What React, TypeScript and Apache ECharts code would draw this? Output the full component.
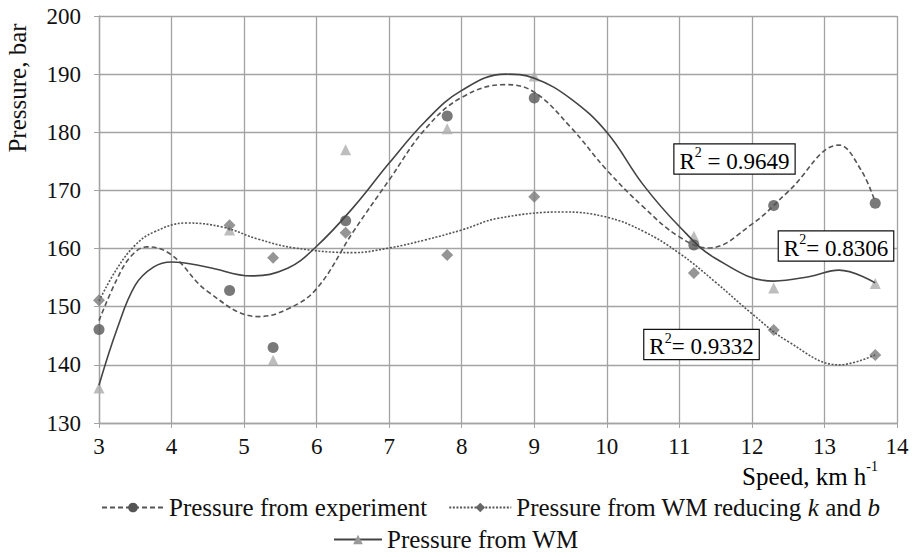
import React, { useEffect, useRef } from "react";
import * as echarts from "echarts";

// Measured points
const speedX = [3, 4.8, 5.4, 6.4, 7.8, 9, 11.2, 12.3, 13.7];
const expY = [146.1, 152.8, 143, 164.8, 182.8, 185.9, 160.6, 167.4, 167.8];
const kbY = [151.1, 164, 158.4, 162.7, 158.9, 168.9, 155.8, 146, 141.7];
const wmY = [136, 163.2, 140.8, 177, 180.6, 189.7, 162.1, 153.2, 154];

// Trend lines
const expTrendX = [3, 3.25, 3.45, 3.66, 4, 4.5, 5.2, 5.6, 6, 6.5, 7, 7.5, 8, 8.6, 9, 9.5, 10, 10.5, 11, 11.4, 12, 12.5, 13.2, 13.5, 13.7];
const expTrendY = [147.6, 154.8, 158.8, 160.3, 158.9, 152.6, 148.3, 149.6, 153.1, 162.8, 171.8, 180.6, 186, 188.2, 186.9, 180.9, 173.5, 167.2, 162, 160.1, 164.2, 169.8, 177.8, 173.6, 168];
const kbTrendX = [3, 3.25, 3.5, 3.75, 4.2, 4.7, 5.2, 5.7, 6.5, 7, 7.5, 8, 8.5, 9.4, 10, 10.5, 11, 11.5, 12, 12.5, 13.2, 13.7];
const kbTrendY = [151, 156.6, 160.6, 162.8, 164.4, 163.7, 161.6, 160.1, 159.3, 160.1, 161.5, 163.2, 165.2, 166.3, 165.4, 163, 159.2, 154.2, 148.8, 144, 140, 141.7];
const wmTrendX = [3, 3.25, 3.5, 3.75, 4, 4.5, 5.1, 5.6, 6, 6.5, 7, 7.5, 8, 8.6, 9, 9.5, 10, 10.5, 11, 11.5, 12.3, 12.8, 13.2, 13.7];
const wmTrendY = [136.5, 146.2, 153.7, 156.8, 157.7, 156.8, 155.3, 156.6, 160.4, 167, 174.7, 181.9, 187.2, 190, 189.3, 185.8, 180, 171, 163.8, 158.3, 154.4, 155.2, 156.3, 154.1];

const seriesNames = [
  "Pressure from experiment",
  "Pressure from WM reducing k and b",
  "Pressure from WM",
];
const r2Labels = ["0.9649", "0.8306", "0.9332"];

const FONT = "Liberation Serif";

const zip = (xs: number[], ys: number[]) => xs.map((x, i) => [x, ys[i]]);

export default function App() {
  const ref = useRef<HTMLDivElement>(null);
  useEffect(() => {
    if (!ref.current) return;
    const chart = echarts.init(ref.current, undefined, { renderer: "svg" });
    const gridColor = "#a3a3a3";
    const supRich = {
      r: { fontSize: 23, fontFamily: FONT, color: "#111", lineHeight: 27, verticalAlign: "bottom" },
      s: { fontSize: 14, fontFamily: FONT, color: "#111", lineHeight: 27, verticalAlign: "top" },
    };
    const r2Box = (cx: number, cy: number, txt: string, eq: string) => ({
      type: "text",
      x: cx,
      y: cy,
      z: 100,
      style: {
        text: `{r|R}{s|2}{r|${eq}${txt}}`,
        rich: supRich,
        align: "center",
        verticalAlign: "middle",
        backgroundColor: "#fff",
        borderColor: "#111",
        borderWidth: 1.2,
        padding: [1, 5, 1, 5],
      },
    });
    const option: any = {
      animation: false,
      backgroundColor: "#fff",
      textStyle: { fontFamily: FONT },
      grid: { left: 99, right: 21, top: 16, height: 407, containLabel: false },
      xAxis: {
        type: "value",
        min: 3,
        max: 14,
        interval: 1,
        axisLine: { show: true, lineStyle: { color: gridColor, width: 1.3 } },
        axisTick: { show: true, length: 5, lineStyle: { color: gridColor } },
        splitLine: { show: true, lineStyle: { color: gridColor, width: 1.3 } },
        axisLabel: { fontSize: 23, fontFamily: FONT, color: "#111", margin: 12 },
      },
      yAxis: {
        type: "value",
        min: 130,
        max: 200,
        interval: 10,
        axisLine: { show: true, lineStyle: { color: gridColor, width: 1.3 } },
        axisTick: { show: true, length: 5, lineStyle: { color: gridColor } },
        splitLine: { show: true, lineStyle: { color: gridColor, width: 1.3 } },
        axisLabel: { fontSize: 23, fontFamily: FONT, color: "#111", margin: 18 },
      },
      legend: [
        {
          data: [seriesNames[0], seriesNames[1]],
          left: 96,
          top: 490,
          itemWidth: 62,
          itemHeight: 12,
          itemGap: 21,
          selectedMode: false,
          textStyle: {
            fontSize: 25,
            fontFamily: FONT,
            color: "#111",
            rich: {
              n: { fontSize: 25, fontFamily: FONT, color: "#111" },
              i: { fontSize: 25, fontFamily: FONT, color: "#111", fontStyle: "italic" },
            },
          },
          formatter: (name: string) =>
            name === seriesNames[1]
              ? "{n|Pressure from WM reducing }{i|k}{n| and }{i|b}"
              : "{n|" + name + "}",
        },
        {
          data: [seriesNames[2]],
          left: 328,
          top: 522,
          itemWidth: 48,
          itemHeight: 12,
          selectedMode: false,
          textStyle: { fontSize: 25, fontFamily: FONT, color: "#111" },
        },
      ],
      graphic: [
        {
          type: "text",
          x: 17,
          y: 88,
          rotation: Math.PI / 2,
          style: {
            text: "Pressure, bar",
            fontSize: 25,
            fontFamily: FONT,
            fill: "#111",
            align: "center",
            verticalAlign: "middle",
          },
        },
        {
          type: "text",
          x: 878,
          y: 474,
          style: {
            text: "{r|Speed, km h}{s|-1}",
            rich: {
              r: { fontSize: 25, fontFamily: FONT, color: "#111", lineHeight: 30, verticalAlign: "bottom" },
              s: { fontSize: 14, fontFamily: FONT, color: "#111", lineHeight: 30, verticalAlign: "top" },
            },
            align: "right",
            verticalAlign: "middle",
          },
        },
        r2Box(734.5, 159, r2Labels[0], " = "),
        r2Box(836, 246, r2Labels[1], "= "),
        r2Box(701.5, 344.5, r2Labels[2], "= "),
      ],
      series: [
        {
          name: seriesNames[0],
          type: "line",
          smooth: 0.4,
          symbol: "circle",
          symbolSize: 9,
          showSymbol: false,
          itemStyle: { color: "#555" },
          lineStyle: { color: "#555", width: 1.6, type: [5, 3] },
          data: zip(expTrendX, expTrendY),
          z: 3,
        },
        {
          name: seriesNames[1],
          type: "line",
          smooth: 0.4,
          symbol: "diamond",
          symbolSize: 9,
          showSymbol: false,
          itemStyle: { color: "#666" },
          lineStyle: { color: "#555", width: 1.6, type: [2, 1.6] },
          data: zip(kbTrendX, kbTrendY),
          z: 3,
        },
        {
          name: seriesNames[2],
          type: "line",
          smooth: 0.4,
          symbol: "triangle",
          symbolSize: 9,
          showSymbol: false,
          itemStyle: { color: "#999" },
          lineStyle: { color: "#444", width: 1.6 },
          data: zip(wmTrendX, wmTrendY),
          z: 3,
        },
        {
          name: "wm points",
          type: "scatter",
          symbol: "triangle",
          symbolSize: 11,
          itemStyle: { color: "#acacac" },
          data: zip(speedX, wmY),
          z: 2,
        },
        {
          name: "kb points",
          type: "scatter",
          symbol: "diamond",
          symbolSize: 12,
          itemStyle: { color: "#7a7a7a" },
          data: zip(speedX, kbY),
          z: 2,
        },
        {
          name: "exp points",
          type: "scatter",
          symbol: "circle",
          symbolSize: 11,
          itemStyle: { color: "#585858" },
          data: zip(speedX, expY),
          z: 2,
        },
      ],
    };
    chart.setOption(option);
    return () => chart.dispose();
  }, []);
  return <div ref={ref} style={{ width: 918, height: 557, position: "absolute", left: 0, top: 0 }} />;
}
